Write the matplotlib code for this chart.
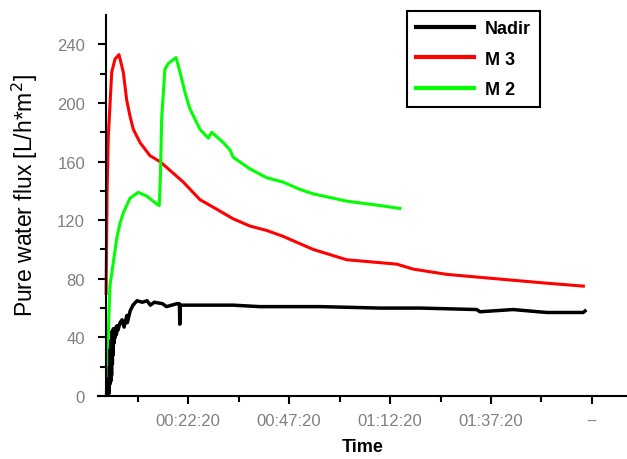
import matplotlib
matplotlib.use("Agg")
import matplotlib.pyplot as plt
from matplotlib.ticker import FixedLocator

plt.rcParams['font.family'] = ['Liberation Sans', 'DejaVu Sans']

# time in minutes, flux in L/h*m2
nadirTime = [2.3, 2.5, 2.6, 2.7, 2.8, 2.9, 3.0, 3.1, 3.2, 3.3, 3.4, 3.5, 3.6, 3.7, 3.8, 3.9,
             4.0, 4.2, 4.3, 4.5, 4.6, 4.8, 5.0, 5.5, 6.0, 6.5, 7.2, 7.3, 8.0, 8.7, 9.7,
             11.0, 12.2, 13.0, 14.0, 16.0, 17.0, 19.6, 20.2, 20.3, 20.4, 25.0, 33.5,
             40.0, 55.0, 69.9, 80.0, 93.8, 94.6, 102.8, 111.1, 120.2, 120.6]
nadirFlux = [0, 3, 0, 12, 2, 20, 8, 32, 10, 38, 14, 44, 22, 45, 28, 46,
             36, 44, 40, 47, 42, 48, 45, 50, 52, 47, 55, 50, 58, 62, 65,
             64, 65, 62, 64, 63, 61, 63, 63, 49, 62, 62, 62,
             61, 61, 60, 60, 59, 57.5, 59, 57, 57, 58]

m3Time = [2.05, 2.3, 2.6, 3.44, 4.26, 5.25, 6.31, 7.15, 7.97, 8.79, 10.45, 12.92, 15.4,
          17.87, 21.16, 25.3, 29.43, 33.47, 37.67, 41.8, 45.84, 53.34, 61.6, 74.0,
          78.1, 86.4, 94.6, 102.8, 111.1, 120.2]
m3Flux = [70, 140, 177, 221, 230, 233, 221, 202, 191, 182, 173, 164, 160,
          154, 146, 134, 127.5, 121, 116, 113, 109, 100, 93, 90,
          86.6, 83, 81, 79, 77, 75]

m2Time = [2.1, 3.0, 4.3, 4.7, 5.5, 6.31, 7.97, 10.0, 12.1, 14.6, 15.2, 15.5, 15.8, 16.6,
          17.45, 19.36, 20.35, 21.6, 22.8, 25.3, 27.35, 28.2, 31.06, 32.7, 33.5, 37.67,
          41.8, 45.9, 50.05, 53.3, 61.6, 69.85, 74.8]
m2Flux = [0, 75, 100, 108, 118, 125, 135, 139, 136.5, 131, 130, 150, 189, 223,
          227, 231, 221, 207, 196, 182, 176, 180, 173, 168, 163, 155,
          149, 146, 141, 138, 133, 130, 128]

majorTicks = [22.333, 47.333, 72.333, 97.333, 122.333]
minorTicks = [9.833, 34.833, 59.833, 84.833, 109.833]
tickLabels = ['00:22:20', '00:47:20', '01:12:20', '01:37:20', '--']

fig = plt.figure(figsize=(6.27, 4.60), dpi=100)
ax = fig.add_axes([0.156, 0.137, 0.844, 0.828])

ax.plot(nadirTime, nadirFlux, color='black', lw=2.5, label='Nadir', zorder=3)
ax.plot(m3Time, m3Flux, color='#ff0000', lw=2.2, label='M 3', zorder=2)
ax.plot(m2Time, m2Flux, color='#00ff00', lw=2.2, label='M 2', zorder=2)

ax.set_xlim(0, 131)
ax.set_ylim(0, 260)
ax.spines['left'].set_position(('data', 2.0))
ax.spines['top'].set_visible(False)
ax.spines['right'].set_visible(False)
for s in ['left', 'bottom']:
    ax.spines[s].set_linewidth(1.5)

ax.set_yticks(range(0, 241, 40))
ax.yaxis.set_minor_locator(FixedLocator(range(20, 241, 40)))
ax.xaxis.set_major_locator(FixedLocator(majorTicks))
ax.xaxis.set_minor_locator(FixedLocator(minorTicks))
ax.set_xticklabels(tickLabels)

ax.tick_params(which='major', direction='out', length=6, width=1.5,
               labelsize=12, labelcolor='#808080', color='black')
ax.tick_params(which='minor', direction='out', length=4.5, width=1.5, color='black')
ax.tick_params(axis='y', pad=9)
ax.tick_params(axis='x', pad=6)

ax.set_ylabel('Pure water flux [L/h*m$^2$]', fontsize=16.5)
ax.set_xlabel('Time', fontsize=13, fontweight='bold')
ax.yaxis.set_label_coords(-0.11, 0.53)
ax.xaxis.set_label_coords(0.5, -0.11)

leg = ax.legend(loc='upper left', bbox_to_anchor=(407 / 627, 1 - 12 / 460),
                bbox_transform=fig.transFigure, borderaxespad=0, fancybox=False,
                edgecolor='black', fontsize=13, handlelength=3.2, labelspacing=0.75,
                borderpad=0.5, handletextpad=0.6, framealpha=1)
leg.get_frame().set_linewidth(1.5)
for line in leg.get_lines():
    line.set_linewidth(3)
for t in leg.get_texts():
    t.set_fontweight('bold')

fig.savefig('out.png', dpi=100)
